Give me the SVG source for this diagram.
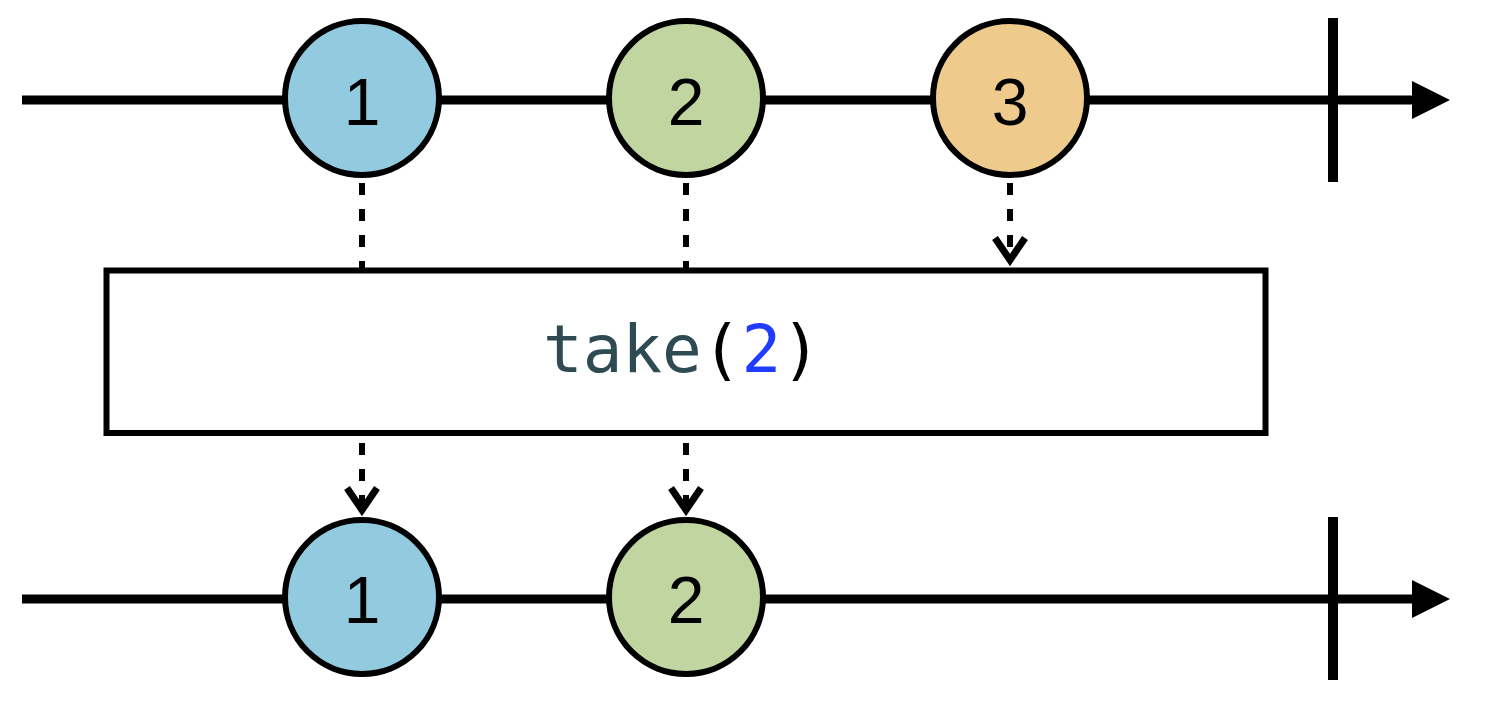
<svg xmlns="http://www.w3.org/2000/svg" width="1486" height="719" viewBox="0 0 1486 719">
  <style>
    .line { stroke: #000; stroke-width: 9; fill: none; }
    .tick { stroke: #000; stroke-width: 10; fill: none; }
    .head { fill: #000; }
    .dash { stroke: #000; stroke-width: 6; stroke-dasharray: 12 14; fill: none; }
    .chev { stroke: #000; stroke-width: 7; fill: none; stroke-linejoin: miter; }
    .marble { stroke: #000; stroke-width: 6; }
    .num { font-family: "Liberation Sans", Arial, sans-serif; font-size: 66px; fill: #000; text-anchor: middle; }
    .op { font-family: "DejaVu Sans Mono", "Liberation Mono", monospace; font-size: 66px; }
  </style>
  <g id="connectors">
    <line class="line" x1="22" y1="100" x2="1420" y2="100"/>
    <polygon class="head" points="1412,81 1450,100 1412,119"/>
    <line class="tick" x1="1333" y1="18" x2="1333" y2="182"/>
    <line class="line" x1="22" y1="599" x2="1420" y2="599"/>
    <polygon class="head" points="1412,580 1450,599 1412,618"/>
    <line class="tick" x1="1333" y1="517" x2="1333" y2="680"/>
    <line class="dash" x1="362" y1="183" x2="362" y2="268"/>
    <line class="dash" x1="686" y1="183" x2="686" y2="268"/>
    <line class="dash" x1="1010" y1="183" x2="1010" y2="255"/>
    <polyline class="chev" points="995,238 1010,260 1025,238"/>
    <line class="dash" x1="362" y1="443" x2="362" y2="505"/>
    <polyline class="chev" points="347,488 362,510 377,488"/>
    <line class="dash" x1="686" y1="443" x2="686" y2="505"/>
    <polyline class="chev" points="671,488 686,510 701,488"/>
  </g>
  <g id="in1">
    <circle class="marble" cx="362" cy="98" r="77" fill="#92cbdf"/>
    <text class="num" x="362" y="125">1</text>
  </g>
  <g id="in2">
    <circle class="marble" cx="686" cy="98" r="77" fill="#c1d5a0"/>
    <text class="num" x="686" y="125">2</text>
  </g>
  <g id="in3">
    <circle class="marble" cx="1010" cy="98" r="77" fill="#eecb8c"/>
    <text class="num" x="1010" y="125">3</text>
  </g>
  <g id="operator">
    <rect x="106.5" y="270.5" width="1159" height="162.5" fill="#fff" stroke="#000" stroke-width="6"/>
    <text class="op" x="682" y="372" text-anchor="middle"><tspan fill="#2e4a52">take</tspan><tspan fill="#000">(</tspan><tspan fill="#1f3cff">2</tspan><tspan fill="#000">)</tspan></text>
  </g>
  <g id="out1">
    <circle class="marble" cx="362" cy="597" r="77" fill="#92cbdf"/>
    <text class="num" x="362" y="623">1</text>
  </g>
  <g id="out2">
    <circle class="marble" cx="686" cy="597" r="77" fill="#c1d5a0"/>
    <text class="num" x="686" y="623">2</text>
  </g>
</svg>
